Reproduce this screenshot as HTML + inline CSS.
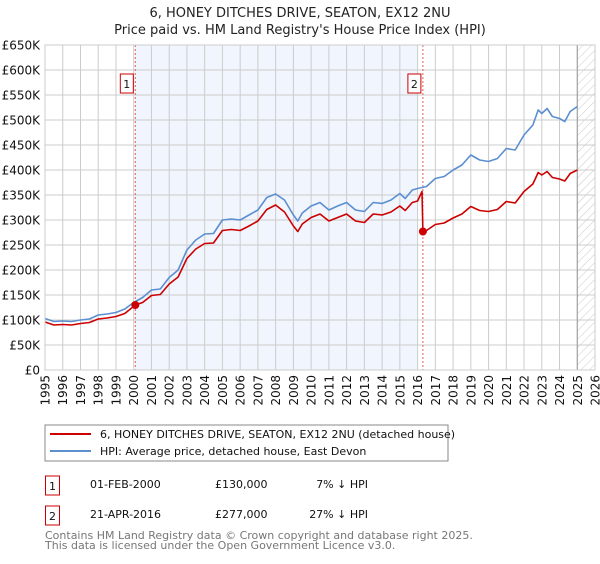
<!DOCTYPE html>
<html><head><meta charset="utf-8"><style>
body{margin:0;background:#fff;width:600px;height:560px;overflow:hidden;font-family:"DejaVu Sans","Liberation Sans",sans-serif;}
svg text{font-family:"DejaVu Sans","Liberation Sans",sans-serif;}
</style></head><body>
<svg id="chart" width="600" height="560" xmlns="http://www.w3.org/2000/svg">
<defs><pattern id="hatch" width="6" height="6" patternUnits="userSpaceOnUse" patternTransform="rotate(45)"><line x1="0" y1="0" x2="0" y2="6" stroke="#bbb" stroke-width="0.8"/></pattern></defs>
<text x="300" y="17" text-anchor="middle" font-size="13" fill="#222">6, HONEY DITCHES DRIVE, SEATON, EX12 2NU</text>
<text x="300" y="34" text-anchor="middle" font-size="13" fill="#222">Price paid vs. HM Land Registry's House Price Index (HPI)</text>
<g id="plot"></g>
<rect x="45" y="425" width="403" height="36" fill="#fff" stroke="#888" stroke-width="1"/>
<line x1="50" y1="434" x2="91" y2="434" stroke="#cc0000" stroke-width="2"/>
<text x="100" y="438" font-size="11" fill="#111">6, HONEY DITCHES DRIVE, SEATON, EX12 2NU (detached house)</text>
<line x1="50" y1="451" x2="91" y2="451" stroke="#5b8fd0" stroke-width="2"/>
<text x="100" y="455" font-size="11" fill="#111">HPI: Average price, detached house, East Devon</text>
<rect x="45.5" y="476" width="14" height="19" fill="#fff" stroke="#cc0000"/>
<text x="52.5" y="490" font-size="11" text-anchor="middle" fill="#111">1</text>
<text x="90" y="488" font-size="11" fill="#111">01-FEB-2000</text>
<text x="215" y="488" font-size="11" fill="#111">£130,000</text>
<text x="368" y="488" font-size="11" text-anchor="end" fill="#111">7% ↓ HPI</text>
<rect x="45.5" y="506" width="14" height="19" fill="#fff" stroke="#cc0000"/>
<text x="52.5" y="520" font-size="11" text-anchor="middle" fill="#111">2</text>
<text x="90" y="518" font-size="11" fill="#111">21-APR-2016</text>
<text x="215" y="518" font-size="11" fill="#111">£277,000</text>
<text x="368" y="518" font-size="11" text-anchor="end" fill="#111">27% ↓ HPI</text>
<text x="45" y="539" font-size="11" fill="#777">Contains HM Land Registry data © Crown copyright and database right 2025.</text>
<text x="45" y="549" font-size="11" fill="#777">This data is licensed under the Open Government Licence v3.0.</text>
</svg>
<script>
const hpiYears=[1995,1995.5,1996,1996.5,1997,1997.5,1998,1998.5,1999,1999.5,2000,2000.5,2001,2001.5,2002,2002.5,2003,2003.5,2004,2004.5,2005,2005.5,2006,2006.5,2007,2007.5,2008,2008.5,2009,2009.25,2009.5,2010,2010.5,2011,2011.5,2012,2012.5,2013,2013.5,2014,2014.5,2015,2015.3,2015.7,2016,2016.25,2016.5,2017,2017.5,2018,2018.5,2019,2019.5,2020,2020.5,2021,2021.5,2022,2022.5,2022.8,2023,2023.3,2023.6,2024,2024.3,2024.6,2025];
const hpiValues=[103,97,98,97,100,102,110,112,115,122,135,145,160,162,185,200,240,260,272,273,300,302,300,310,320,345,352,340,310,298,314,328,335,320,328,335,320,317,335,333,340,353,343,360,363,365,367,383,387,400,410,430,420,417,423,443,440,470,490,520,513,523,507,503,497,517,527];
const priceYears=[1995,1995.5,1996,1996.5,1997,1997.5,1998,1998.5,1999,1999.5,2000.09,2000.5,2001,2001.5,2002,2002.5,2003,2003.5,2004,2004.5,2005,2005.5,2006,2006.5,2007,2007.5,2008,2008.5,2009,2009.25,2009.5,2010,2010.5,2011,2011.5,2012,2012.5,2013,2013.5,2014,2014.5,2015,2015.3,2015.7,2016,2016.25,2016.3,2016.5,2017,2017.5,2018,2018.5,2019,2019.5,2020,2020.5,2021,2021.5,2022,2022.5,2022.8,2023,2023.3,2023.6,2024,2024.3,2024.6,2025];
const priceValues=[96,90,91,90,93,95,102,104,107,113,130,135,149,151,172,186,223,242,253,254,279,281,279,288,298,321,330,316,288,277,292,305,312,298,305,312,298,295,312,310,316,328,319,335,338,357,277,279,291,294,304,312,327,319,317,321,337,334,357,372,395,390,397,385,382,378,393,400];
const sales=[{n:'1',year:2000.09,value:130},{n:'2',year:2016.3,value:277}];
const yTicks=[0,50,100,150,200,250,300,350,400,450,500,550,600,650];
const yTickLabels=['£0','£50K','£100K','£150K','£200K','£250K','£300K','£350K','£400K','£450K','£500K','£550K','£600K','£650K'];
const xTicks=[1995,1996,1997,1998,1999,2000,2001,2002,2003,2004,2005,2006,2007,2008,2009,2010,2011,2012,2013,2014,2015,2016,2017,2018,2019,2020,2021,2022,2023,2024,2025,2026];

const L=45,R=595,T=45,B=370,X0=1995,X1=2026,YMAX=650;
const sx=y=>L+(y-X0)/(X1-X0)*(R-L);
const sy=v=>B-v/YMAX*(B-T);
const NS='http://www.w3.org/2000/svg';
const g=document.getElementById('plot');
function mk(tag,attrs,parent){const e=document.createElementNS(NS,tag);for(const k in attrs)e.setAttribute(k,attrs[k]);(parent||g).appendChild(e);return e;}

let e=mk('rect',{x:sx(sales[0].year),y:T,width:sx(2016.0)-sx(sales[0].year),height:B-T,fill:'#eef3fd',opacity:0.8});


e=mk('rect',{x:sx(2025),y:T,width:R-sx(2025),height:B-T,fill:'url(#hatch)'});



xTicks.forEach(t=>{
  const x=sx(t);
  let l=mk('line',{x1:x,y1:T,x2:x,y2:B,stroke:'#ccc','stroke-width':1});
  
  
  let tx=mk('text',{x:0,y:0,'font-size':12,fill:'#111','text-anchor':'end',transform:`translate(${x+4.5},375) rotate(-90)`});
  tx.textContent=t;
  
  
});
yTicks.forEach((v,i)=>{
  const y=sy(v);
  let l=mk('line',{x1:L,y1:y,x2:R,y2:y,stroke:'#ccc','stroke-width':1});
  
  
  let tx=mk('text',{x:40,y:y+4.5,'font-size':12,fill:'#111','text-anchor':'end'});
  tx.textContent=yTickLabels[i];
  
  
});
e=mk('line',{x1:sx(2025),y1:T,x2:sx(2025),y2:B,stroke:'#999','stroke-width':1});



sales.forEach(s=>{
  let l=mk('line',{x1:sx(s.year),y1:T,x2:sx(s.year),y2:B,stroke:'#e06060','stroke-width':1,'stroke-dasharray':'2,2'});
  
  
  let r=mk('rect',{x:sx(s.year)-15,y:74,width:13,height:19,fill:'#fff',stroke:'#cc0000'});
  
  
  let t=mk('text',{x:sx(s.year)-8.5,y:88,'font-size':11,'text-anchor':'middle',fill:'#111'});
  t.textContent=s.n;
  
  
});

const pth=(xs,vs)=>xs.map((y,i)=>(i?'L':'M')+sx(y).toFixed(1)+','+sy(vs[i]).toFixed(1)).join(' ');
e=mk('path',{d:pth(hpiYears,hpiValues),fill:'none',stroke:'#5b8fd0','stroke-width':1.6,'stroke-linejoin':'round'});


e=mk('path',{d:pth(priceYears,priceValues),fill:'none',stroke:'#cc0000','stroke-width':1.6,'stroke-linejoin':'round'});


sales.forEach(s=>{
  let c=mk('circle',{cx:sx(s.year),cy:sy(s.value),r:4,fill:'#cc0000'});
  
  
});
e=mk('rect',{x:L,y:T,width:R-L,height:B-T,fill:'none',stroke:'#ccc'});


</script>
</body></html>
